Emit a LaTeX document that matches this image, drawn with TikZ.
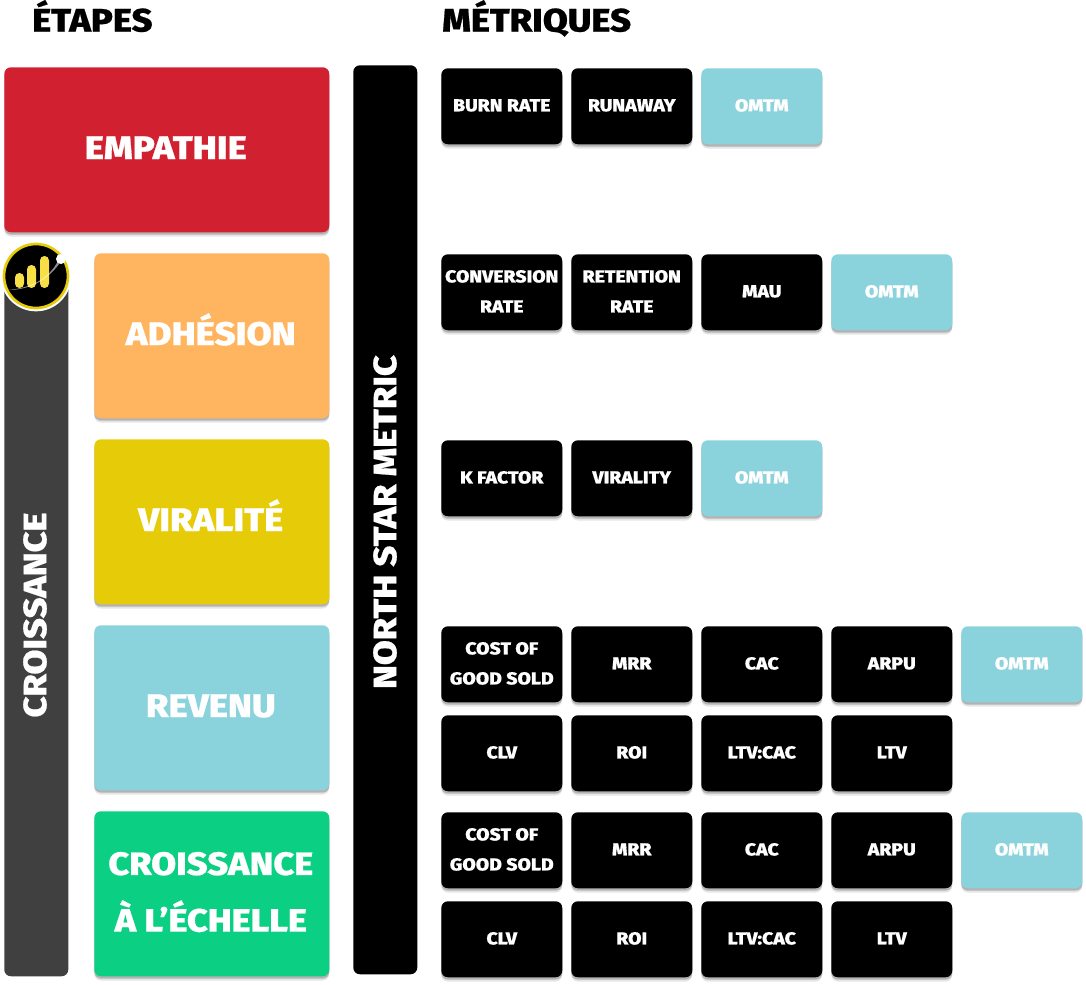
\documentclass[tikz,border=0pt]{standalone}
\usepackage{fontspec}
\setmainfont{Fira Sans ExtraBold}[FakeStretch=1.12,FakeBold=0.6]
\definecolor{cred}{HTML}{D12130}
\definecolor{corange}{HTML}{FFB55F}
\definecolor{cyellow}{HTML}{E6CB08}
\definecolor{cblue}{HTML}{8AD3DD}
\definecolor{cgreen}{HTML}{0BD083}
\definecolor{cgray}{HTML}{404040}
\definecolor{clogo}{HTML}{F7DF45}
\newcommand{\stagetext}[1]{\raisebox{\dimexpr-.345em+1.5pt\relax}[0pt][0pt]{#1}\kern1.5pt}
\tikzset{
 x=.75pt,y=.75pt,
 softshadow/.style={
   preaction={draw=none,fill=black,fill opacity=.10,transform canvas={yshift=-3.2pt}},
   preaction={draw=none,fill=black,fill opacity=.22,transform canvas={yshift=-1.8pt}}},
 metric/.style={softshadow,anchor=north west,fill=black,text=white,rounded corners=5pt,minimum width=90.75pt,minimum height=57pt,inner sep=0pt,align=center,font=\fontsize{13}{22.5}\selectfont,execute at end node={\rule[-1.5pt]{0pt}{0pt}}},
 omtm/.style={metric,fill=cblue},
 stage/.style={softshadow,anchor=north west,text=white,rounded corners=5pt,minimum width=176.25pt,minimum height=123.75pt,inner sep=0pt,align=center,font=\fontsize{24.5}{42.5}\selectfont},
 stagetwo/.style={stage,font=\fontsize{24.2}{42.5}\selectfont,execute at end node={\rule[-3pt]{0pt}{0pt}}},
 bar/.style={anchor=north west,rounded corners=5pt,minimum width=48pt,inner sep=0pt,text=white},
 bartext/.style={rotate=90,text=white,anchor=center,font=\fontsize{24.2}{28}\selectfont},
 heading/.style={anchor=base west,inner sep=0pt,font=\fontsize{24.3}{28}\selectfont},
}
\begin{document}
\begin{tikzpicture}
\useasboundingbox (0,0) rectangle (1086,-985);
\node[heading] (h1) at (32,-31.5) {ÉTAPES};
\node[heading] (h2) at (442,-31.5) {MÉTRIQUES};
% stages
\node[stage,fill=cred,minimum width=243.75pt] (s1) at (4,-67) {\stagetext{EMPATHIE}};
\node[stage,fill=corange] (s2) at (94,-253) {\stagetext{ADHÉSION}};
\node[stage,fill=cyellow] (s3) at (94,-439) {\stagetext{VIRALITÉ}};
\node[stage,fill=cblue] (s4) at (94,-625) {\stagetext{REVENU}};
\node[stagetwo,fill=cgreen] (s5) at (94,-811) {CROISSANCE\kern1.5pt\\À L’ÉCHELLE\kern1.5pt};
% bars
\node[bar,fill=black,minimum height=681.75pt] (north) at (353,-65) {};
\node[bartext] (northt) at (385,-522) {NORTH STAR METRIC};
\node[bar,fill=cgray,minimum height=526.5pt] (grow) at (4,-274) {};
\node[bartext] (growt) at (35,-615) {CROISSANCE};
% logo
\node[circle,fill=white,minimum size=53pt,inner sep=0pt,outer sep=0pt] (logoa) at (36,-276) {};
\node[circle,fill=black,draw=cyellow,line width=2pt,minimum size=48pt,inner sep=0pt,outer sep=0pt] (logob) at (36,-276) {};
\fill[clogo,rounded corners=3.3pt] (15,-288) rectangle (24,-273);
\fill[clogo,rounded corners=3.3pt] (27,-288) rectangle (36,-265);
\fill[clogo,rounded corners=3.3pt] (40,-288) rectangle (49,-256);
\fill[white,opacity=.55] (8,-290) .. controls (30,-288) and (48,-280) .. (58,-261) -- (62,-260) .. controls (50,-278) and (32,-290) .. (8,-290) -- cycle;
\fill[white] (61,-259) circle (5);
% metrics
\node[metric] (a1) at (441,-68) {BURN RATE};
\node[metric] (a2) at (571,-68) {RUNAWAY};
\node[omtm] (a3) at (701,-68) {OMTM};
\node[metric] (b1) at (441,-254) {CONVERSION\\RATE};
\node[metric] (b2) at (571,-254) {RETENTION\\RATE};
\node[metric] (b3) at (701,-254) {MAU};
\node[omtm] (b4) at (831,-254) {OMTM};
\node[metric] (c1) at (441,-440) {K FACTOR};
\node[metric] (c2) at (571,-440) {VIRALITY};
\node[omtm] (c3) at (701,-440) {OMTM};
\node[metric] (d1) at (441,-626) {COST OF\\GOOD SOLD};
\node[metric] (d2) at (571,-626) {MRR};
\node[metric] (d3) at (701,-626) {CAC};
\node[metric] (d4) at (831,-626) {ARPU};
\node[omtm] (d5) at (961,-626) {OMTM};
\node[metric] (e1) at (441,-715) {CLV};
\node[metric] (e2) at (571,-715) {ROI};
\node[metric] (e3) at (701,-715) {LTV:CAC};
\node[metric] (e4) at (831,-715) {LTV};
\node[metric] (f1) at (441,-812) {COST OF\\GOOD SOLD};
\node[metric] (f2) at (571,-812) {MRR};
\node[metric] (f3) at (701,-812) {CAC};
\node[metric] (f4) at (831,-812) {ARPU};
\node[omtm] (f5) at (961,-812) {OMTM};
\node[metric] (g1) at (441,-901) {CLV};
\node[metric] (g2) at (571,-901) {ROI};
\node[metric] (g3) at (701,-901) {LTV:CAC};
\node[metric] (g4) at (831,-901) {LTV};
\end{tikzpicture}
\end{document}
